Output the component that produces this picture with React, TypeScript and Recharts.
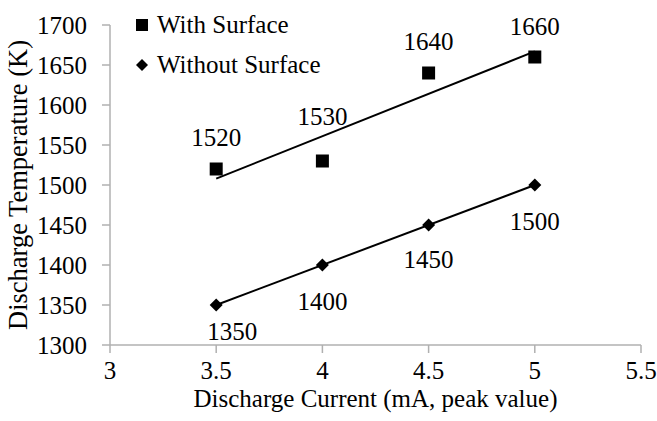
import { ComposedChart, Scatter, XAxis, YAxis, Legend } from "recharts";

const currents = [3.5, 4, 4.5, 5];
const withSurface = [1520, 1530, 1640, 1660];
const withoutSurface = [1350, 1400, 1450, 1500];
const xTicks = [3, 3.5, 4, 4.5, 5, 5.5];
const yTicks = [1300, 1350, 1400, 1450, 1500, 1550, 1600, 1650, 1700];

// little label nudges, like the hand-moved labels in the original
const withLabelDy = [-32, -45, -32, -31];
const withoutLabelDy = [26, 36, 34, 36];
const withoutLabelDx = [16, 0, 0, 0];

const FONT = "Liberation Serif";
const AXIS = "#b0b0b0";

const withData = currents.map((x, i) => ({ x, y: withSurface[i], i }));
const withoutData = currents.map((x, i) => ({ x, y: withoutSurface[i], i }));

const SquareShape = (props: any) => {
  const { cx, cy, payload } = props;
  const i = payload.i;
  return (
    <g>
      <rect x={cx - 6.5} y={cy - 6.5} width={13} height={13} fill="#000" />
      <text
        x={cx}
        y={cy + withLabelDy[i]}
        textAnchor="middle"
        dominantBaseline="central"
        fontSize={25}
        fontFamily={FONT}
        fill="#000"
      >
        {payload.y}
      </text>
    </g>
  );
};

const DiamondShape = (props: any) => {
  const { cx, cy, payload } = props;
  const i = payload.i;
  return (
    <g>
      <polygon
        points={`${cx},${cy - 6.5} ${cx + 6.5},${cy} ${cx},${cy + 6.5} ${cx - 6.5},${cy}`}
        fill="#000"
      />
      <text
        x={cx + withoutLabelDx[i]}
        y={cy + withoutLabelDy[i]}
        textAnchor="middle"
        dominantBaseline="central"
        fontSize={25}
        fontFamily={FONT}
        fill="#000"
      >
        {payload.y}
      </text>
    </g>
  );
};

const renderLegend = () => (
  <div style={{ fontFamily: FONT, fontSize: 25, color: "#000", lineHeight: "40px", whiteSpace: "nowrap" }}>
    <div style={{ display: "flex", alignItems: "center" }}>
      <svg width={22} height={14}>
        <rect x={1} y={1} width={12} height={12} fill="#000" />
      </svg>
      <span>With Surface</span>
    </div>
    <div style={{ display: "flex", alignItems: "center" }}>
      <svg width={22} height={14}>
        <polygon points="7,1 13,7 7,13 1,7" fill="#000" />
      </svg>
      <span>Without Surface</span>
    </div>
  </div>
);

export default function App() {
  return (
    <div style={{ position: "absolute", left: 0, top: 0, fontFamily: FONT, background: "#fff" }}>
      <ComposedChart
        width={657}
        height={421}
        margin={{ top: 25, right: 16, bottom: 0, left: 0 }}
        style={{ fontFamily: FONT }}
      >
        <XAxis
          type="number"
          dataKey="x"
          domain={[3, 5.5]}
          ticks={xTicks}
          height={76}
          stroke={AXIS}
          strokeWidth={1.5}
          tickSize={8}
          tickMargin={8}
          tick={{ fill: "#000", fontSize: 25, fontFamily: FONT }}
          label={(p: any) => {
            const vb = p.viewBox;
            return (
              <text
                x={vb.x + vb.width / 2}
                y={398}
                textAnchor="middle"
                dominantBaseline="central"
                fontSize={25}
                fontFamily={FONT}
                fill="#000"
              >
                Discharge Current (mA, peak value)
              </text>
            );
          }}
        />
        <YAxis
          type="number"
          dataKey="y"
          domain={[1300, 1700]}
          ticks={yTicks}
          width={110}
          stroke={AXIS}
          strokeWidth={1.5}
          tickSize={8}
          tickMargin={15}
          tick={{ fill: "#000", fontSize: 25, fontFamily: FONT }}
          label={(p: any) => {
            const vb = p.viewBox;
            const cy = vb.y + vb.height / 2;
            return (
              <text
                x={18}
                y={cy}
                transform={`rotate(-90, 18, ${cy})`}
                textAnchor="middle"
                dominantBaseline="central"
                fontSize={26.5}
                fontFamily={FONT}
                fill="#000"
              >
                Discharge Temperature (K)
              </text>
            );
          }}
        />
        <Legend
          content={renderLegend}
          layout="vertical"
          verticalAlign="middle"
          align="center"
          wrapperStyle={{ position: "absolute", left: 135, top: 5, width: "auto", height: "auto" }}
        />
        <Scatter
          name="With Surface"
          data={withData}
          fill="#000"
          shape={SquareShape}
          line={{ stroke: "#000", strokeWidth: 2 }}
          lineType="fitting"
          isAnimationActive={false}
        />
        <Scatter
          name="Without Surface"
          data={withoutData}
          fill="#000"
          shape={DiamondShape}
          line={{ stroke: "#000", strokeWidth: 2 }}
          lineType="fitting"
          isAnimationActive={false}
        />
      </ComposedChart>
    </div>
  );
}
